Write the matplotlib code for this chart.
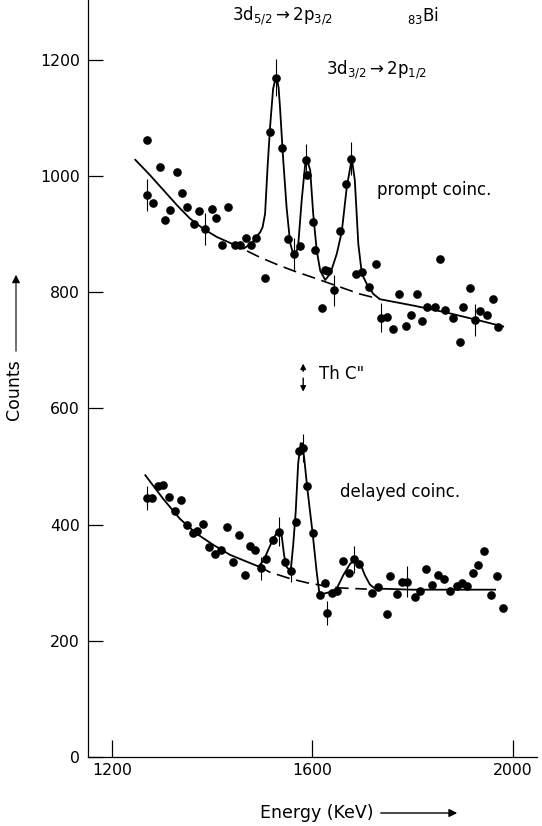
import matplotlib
matplotlib.use("Agg")
import matplotlib.pyplot as plt
import numpy as np

plt.rcParams['font.family'] = ['DejaVu Sans']
plt.rcParams['mathtext.fontset'] = 'dejavusans'

# ---------------- data ----------------
prompt_E = [1270, 1270, 1283, 1296, 1306, 1316, 1330, 1340, 1350, 1365, 1375, 1387,
            1400, 1409, 1421, 1433, 1445, 1456, 1468, 1478, 1488, 1506, 1515, 1527,
            1539, 1551, 1564, 1576, 1588, 1590, 1601, 1606, 1620, 1625, 1632, 1644,
            1655, 1667, 1678, 1688, 1700, 1713, 1727, 1737, 1749, 1761, 1773, 1787,
            1797, 1809, 1820, 1830, 1845, 1855, 1865, 1880, 1894, 1900, 1914, 1925,
            1935, 1948, 1960, 1971]
prompt_C = [1062, 967, 954, 1016, 925, 941, 1007, 971, 947, 918, 940, 909,
            943, 928, 882, 946, 882, 882, 893, 882, 894, 825, 1075, 1169,
            1049, 892, 866, 879, 1028, 1002, 921, 873, 773, 838, 836, 803,
            905, 987, 1030, 832, 834, 809, 848, 756, 757, 737, 797, 742,
            760, 797, 750, 774, 774, 858, 770, 756, 714, 775, 807, 752,
            768, 760, 789, 741]
prompt_err_E = [1270, 1387, 1527, 1564, 1588, 1644, 1678, 1737, 1925]
prompt_err_C = [967, 909, 1169, 866, 1028, 803, 1030, 756, 752]
prompt_err = [28, 28, 32, 27, 27, 26, 28, 25, 27]

prompt_fit_E = [1247, 1277, 1303, 1330, 1356, 1383, 1410, 1436, 1463, 1480, 1489,
                1496, 1501, 1506, 1511, 1516, 1522, 1526, 1529, 1533, 1536, 1542,
                1549, 1556, 1562, 1568, 1572, 1579, 1586, 1590, 1596, 1602, 1609,
                1616, 1626, 1636, 1649, 1659, 1669, 1679, 1685, 1692, 1699, 1709,
                1722, 1735, 1802, 1868, 1935, 1981]
prompt_fit_C = [1028, 1001, 976, 950, 927, 909, 895, 885, 875, 885, 896,
                903, 912, 935, 1016, 1085, 1150, 1165, 1170, 1152, 1115, 1030,
                945, 885, 866, 868, 880, 958, 1020, 1028, 1010, 935, 872,
                837, 821, 832, 866, 904, 981, 1030, 993, 883, 832, 814,
                797, 788, 777, 765, 751, 741]
prompt_bg_E = [1470, 1496, 1529, 1562, 1596, 1629, 1662, 1695, 1722]
prompt_bg_C = [871, 860, 848, 837, 827, 817, 807, 797, 791]

delayed_E = [1270, 1281, 1293, 1303, 1315, 1326, 1338, 1350, 1362, 1371, 1383, 1395,
             1406, 1418, 1431, 1441, 1453, 1466, 1475, 1486, 1497, 1508, 1522, 1534,
             1546, 1557, 1568, 1574, 1581, 1590, 1601, 1616, 1626, 1630, 1639, 1649,
             1662, 1674, 1684, 1694, 1720, 1732, 1749, 1755, 1769, 1780, 1790, 1806,
             1816, 1827, 1840, 1850, 1863, 1874, 1888, 1898, 1908, 1920, 1931, 1943,
             1957, 1968, 1980]
delayed_C = [446, 446, 466, 468, 448, 423, 442, 400, 386, 389, 401, 362,
             350, 356, 396, 335, 382, 314, 364, 357, 325, 341, 374, 388,
             335, 321, 405, 527, 532, 466, 386, 278, 299, 248, 283, 286,
             337, 317, 340, 332, 283, 292, 247, 311, 281, 301, 302, 276,
             286, 323, 296, 314, 307, 286, 294, 299, 295, 317, 330, 354,
             278, 311, 256]
delayed_err_E = [1270, 1497, 1534, 1557, 1581, 1630, 1684, 1790]
delayed_err_C = [446, 325, 388, 321, 532, 248, 340, 302]
delayed_err = [20, 20, 25, 19, 24, 20, 23, 27]

delayed_fit_E = [1267, 1303, 1336, 1370, 1403, 1436, 1470, 1493, 1503, 1513, 1522,
                 1532, 1539, 1544, 1549, 1557, 1562, 1567, 1572, 1577, 1580, 1584,
                 1590, 1601, 1609, 1614, 1622, 1636, 1649, 1662, 1676, 1686, 1696,
                 1705, 1715, 1725, 1800, 1900, 1965]
delayed_fit_C = [485, 444, 410, 384, 365, 348, 336, 328, 338, 358, 375,
                 390, 382, 347, 327, 320, 364, 421, 505, 540, 540, 515,
                 464, 384, 318, 284, 281, 284, 290, 313, 333, 338, 333,
                 313, 297, 290, 288, 288, 288]
delayed_bg_E = [1493, 1516, 1556, 1589, 1622, 1656, 1709]
delayed_bg_C = [328, 318, 307, 300, 295, 291, 289]

xticks = [1200, 1600, 2000]
yticks = [0, 200, 400, 600, 800, 1000, 1200]

# ---------------- figure ----------------
fig = plt.figure(figsize=(5.42, 8.26), dpi=100)
ax = fig.add_axes([88/542, 69/826, (537-88)/542, 757/826])
ax.set_xlim(1152.7, 2048.5)
ax.set_ylim(0, 1303)

for s in ['top', 'right']:
    ax.spines[s].set_visible(False)
for s in ['left', 'bottom']:
    ax.spines[s].set_linewidth(0.9)

ax.set_xticks(xticks)
ax.set_yticks(yticks)
ax.tick_params(axis='x', direction='in', length=12, width=0.9, pad=4, labelsize=11.3)
ax.tick_params(axis='y', direction='in', length=11, width=0.9, pad=6, labelsize=11.3)

# curves
ax.plot(prompt_fit_E, prompt_fit_C, color='k', lw=1.3, solid_joinstyle='round')
ax.plot(prompt_bg_E, prompt_bg_C, color='k', lw=1.2, dashes=(8, 4))
ax.plot(delayed_fit_E, delayed_fit_C, color='k', lw=1.3, solid_joinstyle='round')
ax.plot(delayed_bg_E, delayed_bg_C, color='k', lw=1.2, dashes=(8, 4))

# error bars
ax.errorbar(prompt_err_E, prompt_err_C, yerr=prompt_err, fmt='none', ecolor='k',
            elinewidth=0.8, capsize=0)
ax.errorbar(delayed_err_E, delayed_err_C, yerr=delayed_err, fmt='none', ecolor='k',
            elinewidth=0.8, capsize=0)

# points
ax.plot(prompt_E, prompt_C, 'o', color='k', ms=5.2, mec='k')
ax.plot(delayed_E, delayed_C, 'o', color='k', ms=5.2, mec='k')

# annotations
fs = 12
ax.text(1540, 1276, r'3d$_{5/2}$$\rightarrow$2p$_{3/2}$', ha='center', va='center', fontsize=fs)
ax.text(1789, 1276, r'$_{83}$Bi', ha='left', va='center', fontsize=fs)
ax.text(1729, 1183, r'3d$_{3/2}$$\rightarrow$2p$_{1/2}$', ha='center', va='center', fontsize=fs)
ax.text(1729, 976, 'prompt coinc.', ha='left', va='center', fontsize=fs)
ax.text(1655, 456, 'delayed coinc.', ha='left', va='center', fontsize=fs)
ax.text(1614, 660, 'Th C"', ha='left', va='center', fontsize=fs)
ax.annotate('', xy=(1582, 682), xytext=(1582, 659),
            arrowprops=dict(arrowstyle='-|>', color='k', lw=1.0, mutation_scale=8))
ax.annotate('', xy=(1582, 624), xytext=(1582, 657),
            arrowprops=dict(arrowstyle='-|>', color='k', lw=1.0, mutation_scale=8))

# axis labels with arrows
fig.text(260/542, 1 - 813/826, 'Energy (KeV)', ha='left', va='center', fontsize=12.5)
fig.patches.append(matplotlib.patches.FancyArrowPatch(
    (378/542, 1 - 813/826), (460/542, 1 - 813/826), transform=fig.transFigure,
    arrowstyle='-|>', mutation_scale=12, lw=1.0, color='k'))
fig.text(14/542, 1 - 390/826, 'Counts', ha='center', va='center', rotation=90, fontsize=12.5)
fig.patches.append(matplotlib.patches.FancyArrowPatch(
    (16/542, 1 - 354/826), (16/542, 1 - 272/826), transform=fig.transFigure,
    arrowstyle='-|>', mutation_scale=12, lw=0.8, color='k'))

fig.savefig('out.png', dpi=100)
